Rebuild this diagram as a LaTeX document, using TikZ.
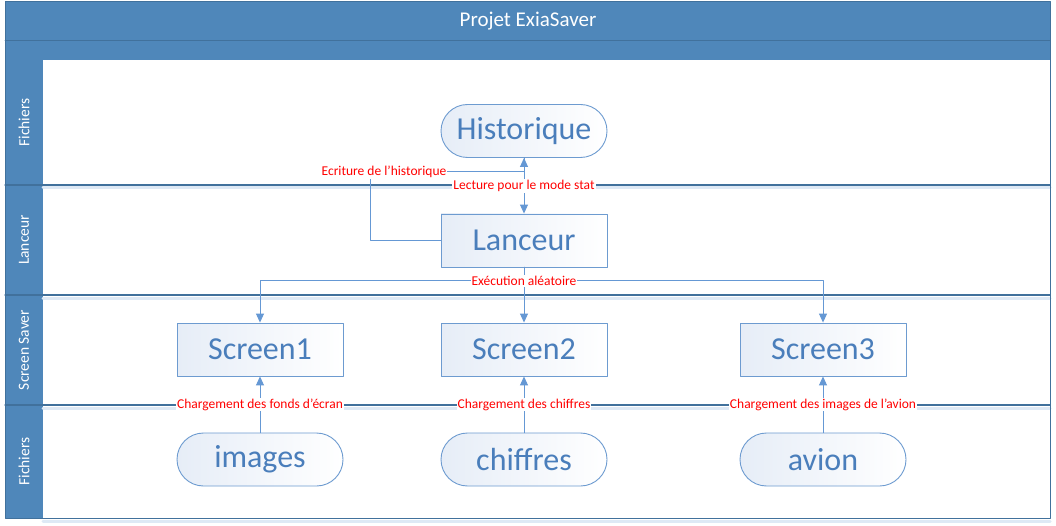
\documentclass[tikz,border=0pt]{standalone}
\usepackage{fontspec}
\setmainfont{Carlito}
\usetikzlibrary{arrows.meta,positioning}

\definecolor{lanehead}{RGB}{79,135,186}
\definecolor{laneline}{RGB}{65,113,156}
\definecolor{laneglow}{RGB}{222,233,245}
\definecolor{boxline}{RGB}{109,155,208}
\definecolor{boxtext}{RGB}{74,126,187}
\definecolor{boxfill}{RGB}{230,237,247}
\definecolor{flowline}{RGB}{101,152,212}

\begin{document}
\begin{tikzpicture}[x=1pt,y=-1pt,line cap=round,line join=round,
  >={Triangle[width=8pt,length=9pt]},
  box/.style={draw=boxline,line width=0.9pt,minimum width=166pt,minimum height=53pt,
    inner sep=0pt,text=boxtext,font=\fontsize{32}{36}\selectfont,
    left color=boxfill,right color=white},
  pill/.style={box,rounded corners=26.5pt},
  flow/.style={draw=flowline,line width=1pt,->},
  lbl/.style={fill=white,text=red,inner sep=1pt,font=\fontsize{13.5}{15}\selectfont},
  lanetitle/.style={text=white,rotate=90,font=\fontsize{15.5}{17}\selectfont}]
\useasboundingbox (0,0) rectangle (1056,526);
% swimlanes
\fill[white] (0,0) rectangle (1056,526);
\fill[lanehead] (5,2) rectangle (1050,60);
\fill[lanehead] (5,60) rectangle (43,518);
\draw[laneline,line width=0.8pt] (5,40) -- (1050,40);
\foreach \y in {185,295,405,518}
  \draw[laneglow,line width=3pt] (43,\y+3) -- (1050,\y+3);
\foreach \y in {185,295,405}
  \draw[laneline,line width=1.3pt] (5,\y) -- (1050,\y);
\draw[laneline,line width=1pt] (5,2) rectangle (1050,518);
\node[text=white,font=\fontsize{21}{25}\selectfont] (title) at (528,21) {Projet ExiaSaver};
\node[lanetitle] (lane1) at (24,122.5) {Fichiers};
\node[lanetitle] (lane2) at (24,240) {Lanceur};
\node[lanetitle] (lane3) at (24,350) {Screen Saver};
\node[lanetitle] (lane4) at (24,461.5) {Fichiers};
% blocs
\node[pill] (historique) at (524,131) {Historique};
\node[box] (lanceur) at (524,240.5) {Lanceur};
\node[box] (screen1) at (260,349.5) {Screen1};
\node[box] (screen2) at (524,349.5) {Screen2};
\node[box] (screen3) at (823,349.5) {Screen3};
\node[pill] (images) at (260,459.5) {images};
\node[pill] (chiffres) at (524,459.5) {chiffres};
\node[pill] (avion) at (823,459.5) {avion};
% liens
\coordinate (ecr) at (370,172);
\coordinate (split) at (524,281);
\draw[flow] (lanceur.west) -| (ecr) -- (ecr -| historique.south) -- (historique.south);
\node[lbl] (ecrlbl) at (384,172) {Ecriture de l’historique};
\draw[flow] (historique.south) -- (lanceur.north) node[lbl,midway] (lectlbl) {Lecture pour le mode stat};
\draw[flow] (lanceur.south) -- (split) -| (screen1.north);
\draw[flow] (lanceur.south) -- (split) -| (screen3.north);
\draw[flow] (lanceur.south) -- (screen2.north);
\node[lbl] (execlbl) at (split) {Exécution aléatoire};
\draw[flow] (images) -- (screen1) node[lbl,midway] (chg1) {Chargement des fonds d’écran};
\draw[flow] (chiffres) -- (screen2) node[lbl,midway] (chg2) {Chargement des chiffres};
\draw[flow] (avion) -- (screen3) node[lbl,midway] (chg3) {Chargement des images de l’avion};
\end{tikzpicture}
\end{document}
